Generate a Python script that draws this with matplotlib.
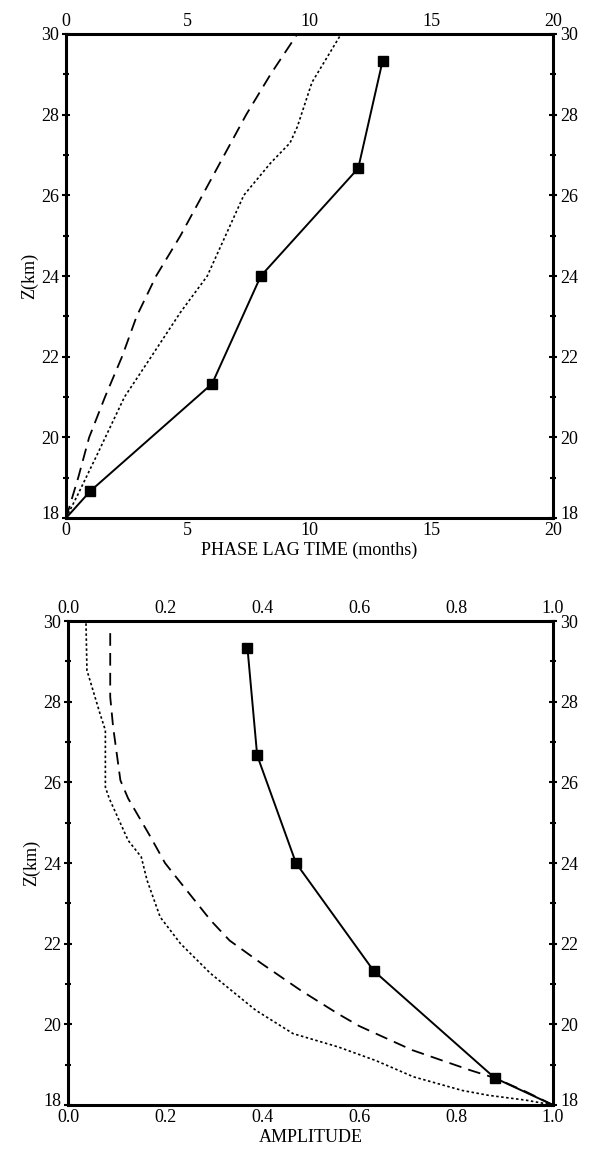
import matplotlib.pyplot as plt
from matplotlib.ticker import MultipleLocator
from matplotlib.transforms import ScaledTranslation

plt.rcParams['font.family'] = ['Liberation Serif', 'DejaVu Serif']

# Phase lag panel (months vs km)
phase_obs_z = [18, 18.67, 21.33, 24, 26.67, 29.33]
phase_obs_t = [0, 1, 6, 8, 12, 13]
phase_dash_z = [18, 19, 20, 21, 22, 23, 24, 25, 26, 27, 28, 29, 30]
phase_dash_t = [0, 0.5, 0.95, 1.6, 2.3, 2.9, 3.7, 4.7, 5.6, 6.5, 7.4, 8.4, 9.5]
phase_dot_z = [18, 18.6, 19.6, 21, 22, 23.1, 24, 26, 26.8, 27.3, 27.7, 28.8, 29.3, 30]
phase_dot_t = [0, 0.5, 1.3, 2.4, 3.5, 4.7, 5.8, 7.3, 8.4, 9.2, 9.5, 10.1, 10.6, 11.3]

# Amplitude panel
amp_obs_z = [18, 18.67, 21.33, 24, 26.67, 29.33]
amp_obs_a = [1.0, 0.88, 0.63, 0.47, 0.39, 0.37]
amp_dash_z = [18, 18.33, 18.67, 18.86, 19.36, 19.96, 20.26, 20.84, 21.5, 22.08,
              22.58, 23.74, 24.0, 24.65, 25.6, 26.05, 27.37, 28.12, 29.73]
amp_dash_a = [1.0, 0.944, 0.88, 0.83, 0.71, 0.60, 0.557, 0.48, 0.40, 0.333,
              0.294, 0.217, 0.20, 0.17, 0.124, 0.108, 0.093, 0.087, 0.087]
amp_dot_z = [18, 18.12, 18.24, 18.36, 18.7, 19.1, 19.44, 19.77, 20.35, 21.26, 22.0,
             22.66, 23.57, 24.15, 24.56, 25.6, 25.88, 27.29, 27.7, 28.78, 29.98]
amp_dot_a = [1.0, 0.944, 0.867, 0.813, 0.712, 0.635, 0.557, 0.464, 0.387, 0.294, 0.232,
             0.19, 0.163, 0.151, 0.124, 0.085, 0.077, 0.077, 0.066, 0.039, 0.037]

z_ticks = [18, 20, 22, 24, 26, 28, 30]

fig = plt.figure(figsize=(5.9, 11.52), dpi=100)
ax1 = fig.add_axes([0.1119, 0.5503, 0.8254, 0.4202])
ax2 = fig.add_axes([0.1153, 0.0408, 0.8220, 0.4201])


def style_axes(ax, xmax, xmajor, fmt):
    ax.set_ylim(18, 30)
    ax.set_xlim(0, xmax)
    ax.set_yticks(z_ticks)
    ax.yaxis.set_minor_locator(MultipleLocator(1))
    ax.xaxis.set_major_locator(MultipleLocator(xmajor))
    ax.xaxis.set_major_formatter(fmt)
    ax.tick_params(axis='both', which='both', top=True, right=True,
                   labeltop=True, labelright=True, labelsize=13,
                   direction='inout', width=1.5)
    ax.tick_params(axis='y', which='major', length=6, pad=2)
    ax.tick_params(axis='y', which='minor', length=4)
    ax.tick_params(axis='x', which='major', length=0, pad=3)
    for s in ax.spines.values():
        s.set_linewidth(2.2)
    ax.set_ylabel('Z(km)', fontsize=13, labelpad=2)
    # lift the lowest y labels a little so they clear the corner x labels
    lift = ScaledTranslation(0, 4 / 72, fig.dpi_scale_trans)
    first = ax.yaxis.get_major_ticks()[0]
    for lab in (first.label1, first.label2):
        lab.set_transform(lab.get_transform() + lift)


line_kw = dict(color='black')

ax1.plot(phase_dash_t, phase_dash_z, lw=1.3, dashes=(7, 4), **line_kw)
ax1.plot(phase_dot_t, phase_dot_z, lw=1.2, dashes=(1.5, 1.5), **line_kw)
ax1.plot(phase_obs_t, phase_obs_z, lw=1.4, marker='s', markersize=6.5,
         markevery=list(range(1, len(phase_obs_z))), **line_kw)
style_axes(ax1, 20, 5, '{x:.0f}')
ax1.set_xlabel('PHASE LAG TIME (months)', fontsize=13, labelpad=2)

ax2.plot(amp_dash_a, amp_dash_z, lw=1.3, dashes=(7, 4), **line_kw)
ax2.plot(amp_dot_a, amp_dot_z, lw=1.2, dashes=(1.5, 1.5), **line_kw)
ax2.plot(amp_obs_a, amp_obs_z, lw=1.4, marker='s', markersize=6.5,
         markevery=list(range(1, len(amp_obs_z))), **line_kw)
style_axes(ax2, 1.0, 0.2, '{x:.1f}')
ax2.set_xlabel('AMPLITUDE', fontsize=13, labelpad=2)

fig.savefig('out.png', dpi=100)
